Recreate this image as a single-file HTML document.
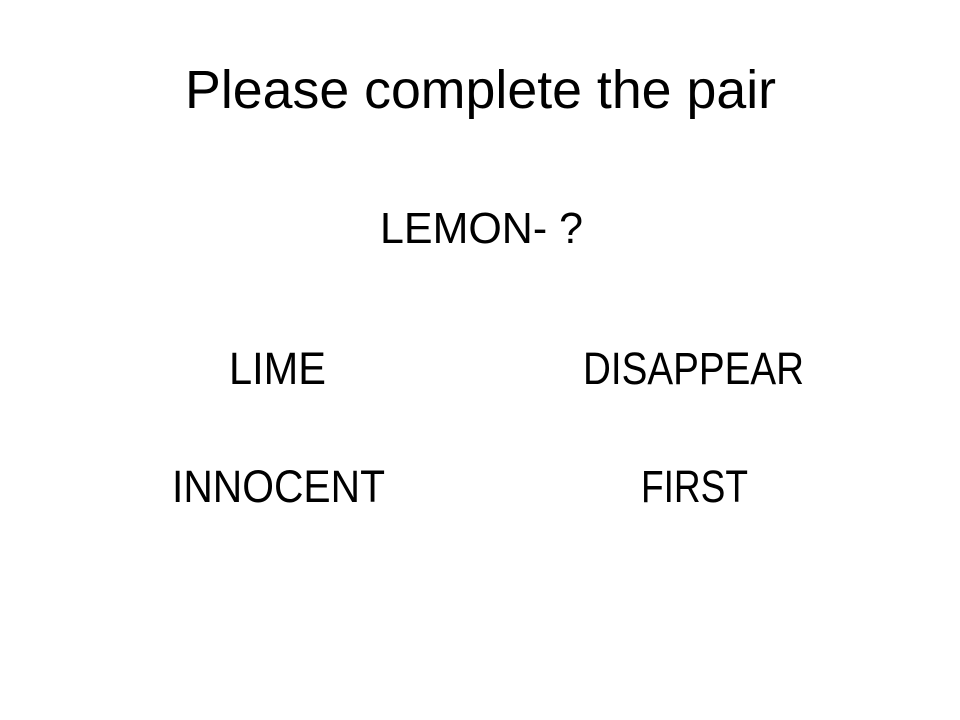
<!DOCTYPE html>
<html lang="en">
<head>
<meta charset="utf-8">
<title>Please complete the pair</title>
<style>
html,body{margin:0;padding:0;background:#fff;width:960px;height:720px;overflow:hidden}
svg{display:block}
text{font-family:"Liberation Sans",Arial,sans-serif;fill:#000}
</style>
</head>
<body>
<svg width="960" height="720" viewBox="0 0 960 720" xmlns="http://www.w3.org/2000/svg">
<text x="185" y="108" font-size="54" textLength="591" lengthAdjust="spacingAndGlyphs">Please complete the pair</text>
<text x="380" y="243" font-size="44" textLength="203" lengthAdjust="spacingAndGlyphs">LEMON- ?</text>
<text x="229" y="384" font-size="45" textLength="97" lengthAdjust="spacingAndGlyphs">LIME</text>
<text x="583" y="384" font-size="45" textLength="221" lengthAdjust="spacingAndGlyphs">DISAPPEAR</text>
<text x="172" y="502" font-size="45" textLength="213" lengthAdjust="spacingAndGlyphs">INNOCENT</text>
<text x="641" y="502" font-size="45" textLength="107" lengthAdjust="spacingAndGlyphs">FIRST</text>
</svg>
</body>
</html>
